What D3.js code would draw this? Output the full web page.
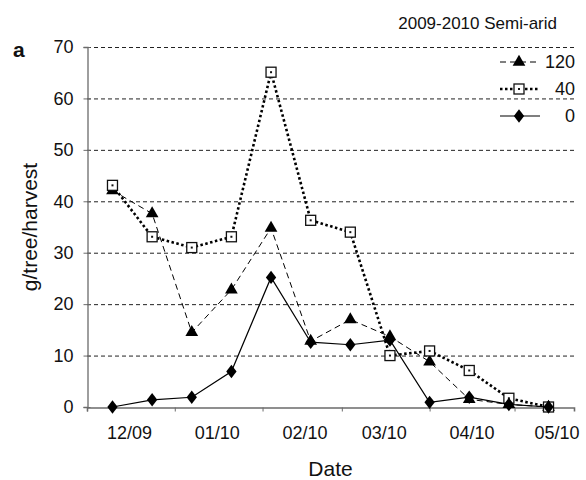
<!DOCTYPE html>
<meta charset="utf-8">
<style>
body { margin: 0; background: #fff; }
svg text { font-family: "Liberation Sans", Arial, Helvetica, sans-serif; fill: #111; }
.grid line { stroke: #222; stroke-dasharray: 4,3; stroke-width: 1; }
</style>
<body>
<script src="https://d3js.org/d3.v7.min.js"></script>
<script>
// harvest dates (biweekly) and fruit yield per tree for three treatments
var harvestDates = ["2009-12-10","2009-12-24","2010-01-07","2010-01-21","2010-02-04","2010-02-18",
                    "2010-03-04","2010-03-18","2010-04-01","2010-04-15","2010-04-29","2010-05-13"];
var yield120 = [42.1, 37.6, 14.5, 22.8, 34.8, 12.8, 17.0, 13.7, 8.8, 1.5, 0.5, 0];
var yield40  = [43.1, 33.1, 31.0, 33.1, 65.1, 36.3, 34.0, 10.0, 10.9, 7.1, 1.7, 0];
var yield0   = [0, 1.4, 1.9, 6.9, 25.2, 12.6, 12.1, 13.0, 0.9, 1.9, 0.5, 0];

var monthTicks  = ["2009-12-01","2010-01-01","2010-02-01","2010-03-01","2010-04-01","2010-05-01"];
var monthLabels = ["12/09","01/10","02/10","03/10","04/10","05/10"];
var yTicks = [0, 10, 20, 30, 40, 50, 60, 70];
var axisStart = "2009-12-01", axisEnd = "2010-05-22";

var parse = d3.utcParse("%Y-%m-%d");
var W = 586, H = 480;
var margin = {top: 47, right: 12, bottom: 73, left: 87};

var svg = d3.select("body").append("svg").attr("width", W).attr("height", H);

var x = d3.scaleUtc()
    .domain([parse(axisStart), parse(axisEnd)])
    .range([margin.left, W - margin.right]);
var y = d3.scaleLinear().domain([0, 70]).range([H - margin.bottom, margin.top]);

// dashed gridlines
svg.append("g").attr("class", "grid")
  .selectAll("line").data(yTicks.filter(function(d) { return d > 0; }))
  .join("line")
    .attr("x1", x.range()[0]).attr("x2", x.range()[1])
    .attr("y1", function(d) { return y(d) + 0.5; })
    .attr("y2", function(d) { return y(d) + 0.5; });

// y axis
var yAxis = svg.append("g")
    .attr("transform", "translate(" + (margin.left + 0.5) + ",0)")
    .call(d3.axisLeft(y).tickValues(yTicks).tickSize(4).tickPadding(10));
yAxis.select(".domain").attr("stroke", "#6b6b6b").attr("stroke-width", 1.3);
yAxis.selectAll(".tick line").attr("stroke", "#6b6b6b").attr("x2", 3).attr("x1", -4);
yAxis.selectAll(".tick text").style("font-size", "18px").attr("fill", "#111");

// x axis: ticks at month starts, labels mid-month
var xAxis = svg.append("g")
    .attr("transform", "translate(0," + (y(0) + 0.5) + ")")
    .call(d3.axisBottom(x).tickValues(monthTicks.map(parse)).tickSize(4).tickFormat(""));
xAxis.select(".domain").attr("stroke", "#6b6b6b").attr("stroke-width", 1.6);
xAxis.selectAll(".tick line").attr("stroke", "#6b6b6b");

svg.append("g").selectAll("text").data(monthTicks)
  .join("text")
    .attr("x", function(d) { var t = parse(d); return x(d3.utcDay.offset(t, 15)); })
    .attr("y", y(0) + 32)
    .attr("text-anchor", "middle")
    .style("font-size", "18px")
    .text(function(d, i) { return monthLabels[i]; });

// axis titles
svg.append("text")
    .attr("x", (x.range()[0] + x.range()[1]) / 2)
    .attr("y", 476)
    .attr("text-anchor", "middle")
    .style("font-size", "21px")
    .text("Date");

svg.append("text")
    .attr("transform", "translate(37," + ((y(0) + y(70)) / 2) + ") rotate(-90)")
    .attr("text-anchor", "middle")
    .style("font-size", "21px")
    .text("g/tree/harvest");

svg.append("text")
    .attr("x", 13).attr("y", 57)
    .style("font-size", "21px").style("font-weight", "bold")
    .text("a");

svg.append("text")
    .attr("x", 557).attr("y", 29)
    .attr("text-anchor", "end")
    .style("font-size", "17px")
    .text("2009-2010 Semi-arid");

var dates = harvestDates.map(parse);
var series = [
  {name: "120", values: yield120, dash: "6,4", width: 1, marker: "triangle"},
  {name: "40",  values: yield40,  dash: "2.5,2.5", width: 2.6, marker: "square"},
  {name: "0",   values: yield0,   dash: null, width: 1.2, marker: "diamond"}
];

var line = d3.line()
    .x(function(d) { return x(d[0]); })
    .y(function(d) { return y(d[1]); });

function drawMarker(sel, kind) {
  if (kind === "triangle") {
    sel.append("path").attr("d", d3.symbol(d3.symbolTriangle, 70)).attr("fill", "#000");
  } else if (kind === "square") {
    sel.append("rect").attr("x", -5).attr("y", -5).attr("width", 10).attr("height", 10)
      .attr("fill", "#fff").attr("stroke", "#111").attr("stroke-width", 1.3);
    sel.append("rect").attr("x", -1).attr("y", -1).attr("width", 2).attr("height", 2).attr("fill", "#111");
  } else {
    sel.append("path").attr("d", d3.symbol(d3.symbolDiamond, 64)).attr("fill", "#000")
      .attr("transform", "scale(1.2,0.9)");
  }
}

series.forEach(function(s) {
  var pts = dates.map(function(d, i) { return [d, s.values[i]]; });
  svg.append("path")
      .datum(pts)
      .attr("fill", "none")
      .attr("stroke", "#000")
      .attr("stroke-width", s.width)
      .attr("stroke-dasharray", s.dash)
      .attr("d", line);
  svg.append("g").selectAll("g").data(pts)
    .join("g")
      .attr("transform", function(d) { return "translate(" + x(d[0]) + "," + y(d[1]) + ")"; })
      .each(function() { drawMarker(d3.select(this), s.marker); });
});

// legend
var legend = svg.append("g");
series.forEach(function(s, i) {
  var ly = 62 + i * 27;
  var g = legend.append("g").attr("transform", "translate(0," + ly + ")");
  g.append("line")
      .attr("x1", 500).attr("x2", 540).attr("y1", 0).attr("y2", 0)
      .attr("stroke", "#000").attr("stroke-width", s.width)
      .attr("stroke-dasharray", s.dash);
  var m = g.append("g").attr("transform", "translate(519,0)");
  drawMarker(m, s.marker);
  g.append("text")
      .attr("x", 575).attr("y", 6)
      .attr("text-anchor", "end")
      .style("font-size", "18px")
      .text(s.name);
});
</script>
</body>
